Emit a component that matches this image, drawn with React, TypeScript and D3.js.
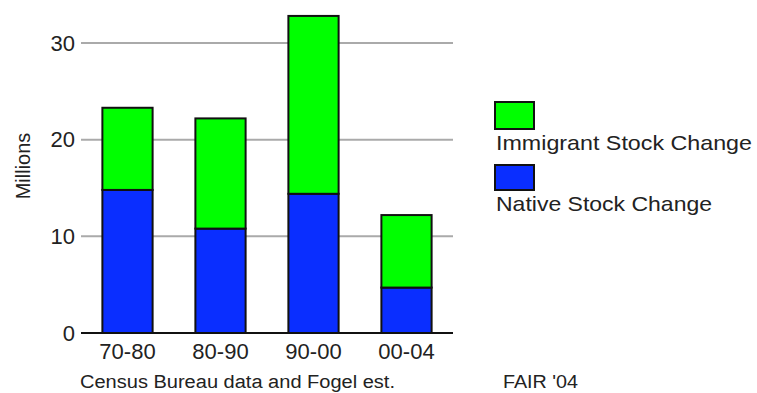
import React from "react";
import * as d3 from "d3";

const categories = ["70-80", "80-90", "90-00", "00-04"];
const nativeValues = [14.8, 10.8, 14.4, 4.7];
const immigrantValues = [8.5, 11.4, 18.4, 7.5];
const yTicks = [0, 10, 20, 30];
const seriesNames = ["Immigrant Stock Change", "Native Stock Change"];
const seriesColors = ["#00ff00", "#0a2eff"];

const W = 757;
const H = 393;
const FONT = "'Liberation Sans', Arial, sans-serif";

export default function App() {
  const x = d3.scaleBand<string>().domain(categories).range([81, 453]).paddingInner(0.46).paddingOuter(0.23);
  const y = d3.scaleLinear().domain([0, 30]).range([333, 43]);

  const rows = categories.map((c, i) => ({ cat: c, native: nativeValues[i], immigrant: immigrantValues[i] }));
  const stack = d3.stack<any>().keys(["native", "immigrant"])(rows);
  const colorFor: Record<string, string> = { native: seriesColors[1], immigrant: seriesColors[0] };

  return (
    <svg width={W} height={H} style={{ position: "absolute", left: 0, top: 0, background: "#fff" }} fontFamily={FONT}>
      {yTicks.filter((t) => t > 0).map((t) => (
        <line key={t} x1={81} x2={453} y1={y(t)} y2={y(t)} stroke="#aaaaaa" strokeWidth={2} />
      ))}
      {yTicks.map((t) => (
        <text key={"l" + t} x={75} y={y(t)} dy="0.35em" textAnchor="end" fontSize={22} fill="#222">
          {t}
        </text>
      ))}
      {stack.map((s) =>
        s.map((d, i) => (
          <rect
            key={s.key + i}
            x={x(categories[i])!}
            width={x.bandwidth()}
            y={y(d[1])}
            height={y(d[0]) - y(d[1])}
            fill={colorFor[s.key]}
            stroke="#111"
            strokeWidth={2}
          />
        ))
      )}
      <line x1={81} x2={453} y1={y(0)} y2={y(0)} stroke="#111" strokeWidth={2} />
      {categories.map((c) => (
        <text key={c} x={x(c)! + x.bandwidth() / 2} y={359} textAnchor="middle" fontSize={22} fill="#222">
          {c}
        </text>
      ))}
      <text transform="translate(30,166) rotate(-90)" textAnchor="middle" fontSize={20} fill="#222">
        Millions
      </text>
      <text x={80} y={388} fontSize={18} fill="#222" textLength={315} lengthAdjust="spacingAndGlyphs">
        Census Bureau data and Fogel est.
      </text>
      <text x={503} y={388} fontSize={18} fill="#222" textLength={75} lengthAdjust="spacingAndGlyphs">
        FAIR '04
      </text>
      <rect x={495} y={102} width={39} height={27} fill={seriesColors[0]} stroke="#111" strokeWidth={2} />
      <text x={496} y={150} fontSize={21} fill="#222" textLength={256} lengthAdjust="spacingAndGlyphs">
        {seriesNames[0]}
      </text>
      <rect x={495} y={165} width={39} height={25} fill={seriesColors[1]} stroke="#111" strokeWidth={2} />
      <text x={496} y={211} fontSize={21} fill="#222" textLength={216} lengthAdjust="spacingAndGlyphs">
        {seriesNames[1]}
      </text>
    </svg>
  );
}
